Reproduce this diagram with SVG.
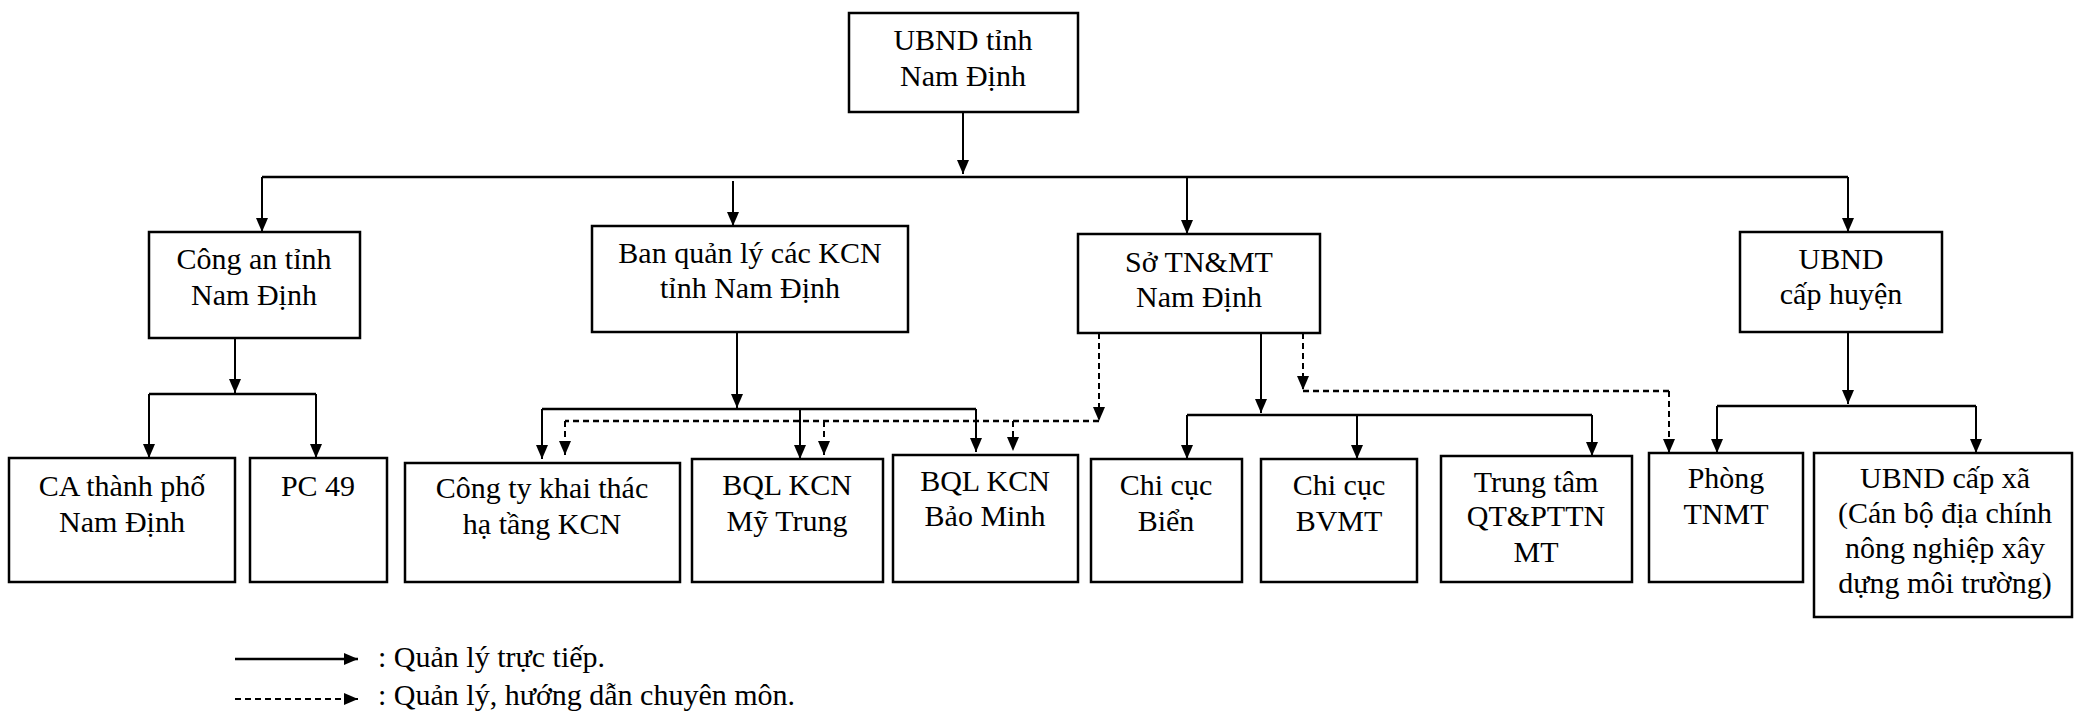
<svg xmlns="http://www.w3.org/2000/svg" width="2074" height="712" viewBox="0 0 2074 712">
<defs>
<marker id="ah" markerUnits="userSpaceOnUse" markerWidth="14" markerHeight="12" refX="14" refY="6" orient="auto">
<path d="M0,0 L14,6 L0,12 z" fill="#000"/>
</marker>
</defs>
<g id="nodes" fill="#fff" stroke="#000" stroke-width="2.5">
<g id="n-ubnd-tinh"><rect x="849" y="13" width="229" height="99"/></g>
<g id="n-congan"><rect x="149" y="232" width="211" height="106"/></g>
<g id="n-bql"><rect x="592" y="226" width="316" height="106"/></g>
<g id="n-so"><rect x="1078" y="234" width="242" height="99"/></g>
<g id="n-huyen"><rect x="1740" y="232" width="202" height="100"/></g>
<g id="n-ca"><rect x="9" y="458" width="226" height="124"/></g>
<g id="n-pc49"><rect x="250" y="458" width="137" height="124"/></g>
<g id="n-congty"><rect x="405" y="463" width="275" height="119"/></g>
<g id="n-mytrung"><rect x="692" y="459" width="191" height="123"/></g>
<g id="n-baominh"><rect x="893" y="455" width="185" height="127"/></g>
<g id="n-bien"><rect x="1091" y="459" width="151" height="123"/></g>
<g id="n-bvmt"><rect x="1261" y="459" width="156" height="123"/></g>
<g id="n-trungtam"><rect x="1441" y="456" width="191" height="126"/></g>
<g id="n-phong"><rect x="1649" y="453" width="154" height="129"/></g>
<g id="n-xa"><rect x="1814" y="453" width="258" height="164"/></g>
</g>
<g id="labels" font-family="'Times New Roman', 'Liberation Serif', Tinos, serif" font-size="30" text-anchor="middle" fill="#000">
<text x="963" y="50">UBND tỉnh</text><text x="963" y="86">Nam Định</text>
<text x="254" y="269">Công an tỉnh</text><text x="254" y="305">Nam Định</text>
<text x="750" y="263">Ban quản lý các KCN</text><text x="750" y="298">tỉnh Nam Định</text>
<text x="1199" y="272">Sở TN&amp;MT</text><text x="1199" y="307">Nam Định</text>
<text x="1841" y="269">UBND</text><text x="1841" y="304">cấp huyện</text>
<text x="122" y="496">CA thành phố</text><text x="122" y="532">Nam Định</text>
<text x="318" y="496">PC 49</text>
<text x="542" y="498">Công ty khai thác</text><text x="542" y="534">hạ tầng KCN</text>
<text x="787" y="495">BQL KCN</text><text x="787" y="531">Mỹ Trung</text>
<text x="985" y="491">BQL KCN</text><text x="985" y="526">Bảo Minh</text>
<text x="1166" y="495">Chi cục</text><text x="1166" y="531">Biển</text>
<text x="1339" y="495">Chi cục</text><text x="1339" y="531">BVMT</text>
<text x="1536" y="492">Trung tâm</text><text x="1536" y="526">QT&amp;PTTN</text><text x="1536" y="562">MT</text>
<text x="1726" y="488">Phòng</text><text x="1726" y="524">TNMT</text>
<text x="1945" y="488">UBND cấp xã</text><text x="1945" y="523">(Cán bộ địa chính</text><text x="1945" y="558">nông nghiệp xây</text><text x="1945" y="593">dựng môi trường)</text>
</g>
<g id="connectors" stroke="#000" stroke-width="2" fill="none">
<line marker-end="url(#ah)" x1="963" y1="112" x2="963" y2="174"/>
<line stroke-width="2.5" x1="262" y1="177" x2="1848" y2="177"/>
<line marker-end="url(#ah)" x1="262" y1="177" x2="262" y2="232"/>
<line marker-end="url(#ah)" x1="733" y1="181" x2="733" y2="226"/>
<line marker-end="url(#ah)" x1="1187" y1="177" x2="1187" y2="234"/>
<line marker-end="url(#ah)" x1="1848" y1="177" x2="1848" y2="232"/>
<line marker-end="url(#ah)" x1="235" y1="338" x2="235" y2="393"/>
<line stroke-width="2.5" x1="149" y1="394" x2="316" y2="394"/>
<line marker-end="url(#ah)" x1="149" y1="394" x2="149" y2="458"/>
<line marker-end="url(#ah)" x1="316" y1="394" x2="316" y2="458"/>
<line marker-end="url(#ah)" x1="737" y1="332" x2="737" y2="408"/>
<line stroke-width="2.5" x1="542" y1="409" x2="976" y2="409"/>
<line marker-end="url(#ah)" x1="542" y1="409" x2="542" y2="459"/>
<line marker-end="url(#ah)" x1="800" y1="409" x2="800" y2="459"/>
<line marker-end="url(#ah)" x1="976" y1="409" x2="976" y2="452"/>
<g stroke-dasharray="6 4">
<line marker-end="url(#ah)" x1="1099" y1="333" x2="1099" y2="421"/>
<line stroke-width="2.5" x1="1099" y1="421" x2="565" y2="421"/>
<line marker-end="url(#ah)" x1="565" y1="421" x2="565" y2="455"/>
<line marker-end="url(#ah)" x1="824" y1="421" x2="824" y2="455"/>
<line marker-end="url(#ah)" x1="1013" y1="421" x2="1013" y2="451"/>
<line marker-end="url(#ah)" x1="1303" y1="333" x2="1303" y2="390"/>
<line stroke-width="2.5" x1="1303" y1="391" x2="1669" y2="391"/>
<line marker-end="url(#ah)" x1="1669" y1="391" x2="1669" y2="453"/>
</g>
<line marker-end="url(#ah)" x1="1261" y1="333" x2="1261" y2="413"/>
<line stroke-width="2.5" x1="1187" y1="415" x2="1592" y2="415"/>
<line marker-end="url(#ah)" x1="1187" y1="415" x2="1187" y2="459"/>
<line marker-end="url(#ah)" x1="1357" y1="415" x2="1357" y2="459"/>
<line marker-end="url(#ah)" x1="1592" y1="415" x2="1592" y2="456"/>
<line marker-end="url(#ah)" x1="1848" y1="332" x2="1848" y2="404"/>
<line stroke-width="2.5" x1="1717" y1="406" x2="1976" y2="406"/>
<line marker-end="url(#ah)" x1="1717" y1="406" x2="1717" y2="453"/>
<line marker-end="url(#ah)" x1="1976" y1="406" x2="1976" y2="453"/>
</g>
<g id="legend">
<line stroke="#000" stroke-width="2.5" marker-end="url(#ah)" x1="235" y1="659" x2="358" y2="659"/>
<line stroke="#000" stroke-width="2" stroke-dasharray="6 4" marker-end="url(#ah)" x1="235" y1="699" x2="358" y2="699"/>
<text font-family="'Times New Roman', 'Liberation Serif', Tinos, serif" font-size="30" fill="#000" x="378" y="667">: Quản lý trực tiếp.</text>
<text font-family="'Times New Roman', 'Liberation Serif', Tinos, serif" font-size="30" fill="#000" x="378" y="705">: Quản lý, hướng dẫn chuyên môn.</text>
</g>
</svg>
